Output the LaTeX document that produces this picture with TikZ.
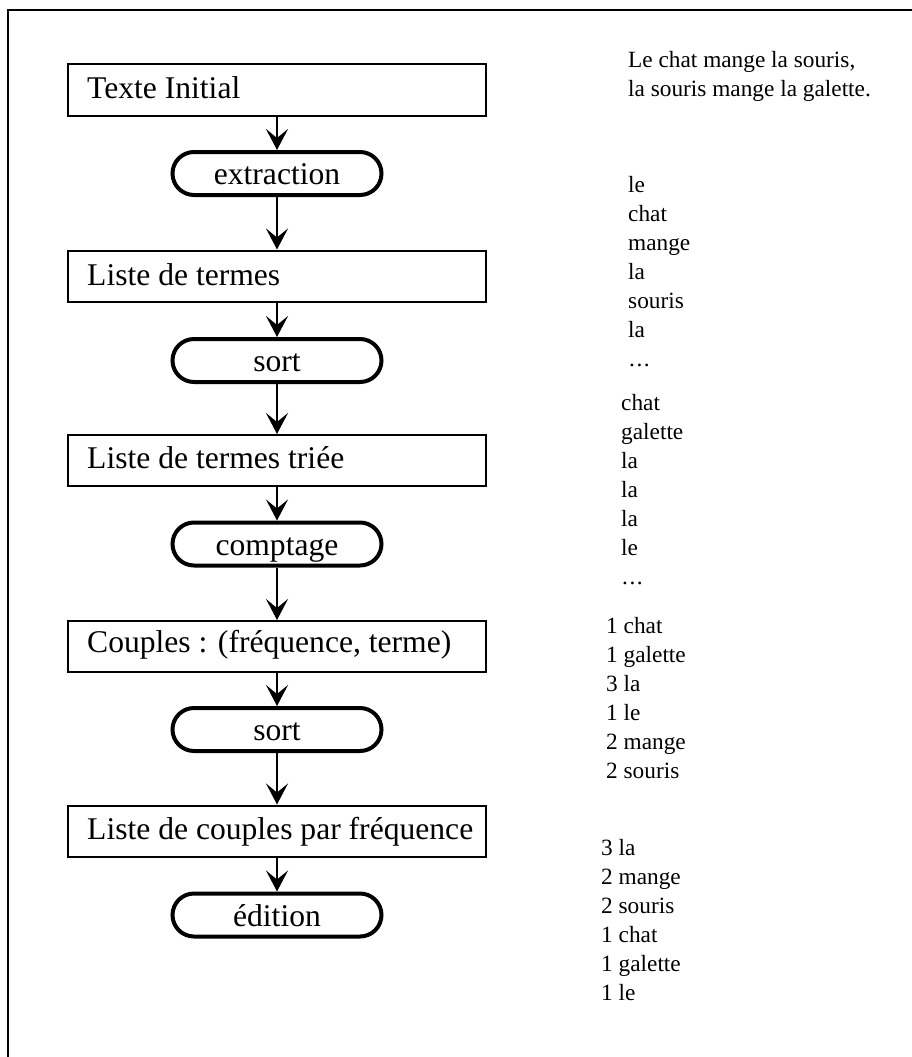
\documentclass[tikz,border=0pt]{standalone}
\usepackage{fontspec}
\setmainfont{Liberation Serif}
\usetikzlibrary{shapes.misc,arrows.meta}
\begin{document}
\begin{tikzpicture}[x=1pt,y=-1pt,
  frame/.style={line width=2.7pt},
  procbox/.style={draw,line width=2pt,rectangle,minimum width=418pt,minimum height=51pt,inner sep=0pt},
  boxtxt/.style={anchor=base west,inner sep=0pt,font=\fontsize{31.6}{38}\selectfont},
  stad/.style={draw,line width=4pt,rounded rectangle,minimum width=209pt,minimum height=43pt,inner sep=0pt,text height=22pt,text depth=0pt,font=\fontsize{31.6}{38}\selectfont},
  flow/.style={line width=2pt,-{Stealth[length=21pt,width=22pt,inset=9pt]}},
  side/.style={anchor=base west,inner sep=0pt,font=\fontsize{23.3}{29}\selectfont}]
\useasboundingbox (0,0) rectangle (912,1057);
\draw[frame] (912,10) -- (8,10) -- (8,1057);

% process boxes
\node[procbox] (b1) at (277,90) {};
\node[procbox] (b2) at (277,276) {};
\node[procbox] (b3) at (277,460.5) {};
\node[procbox] (b4) at (277,646.5) {};
\node[procbox] (b5) at (277,831) {};
\node[boxtxt] (t1) at (87,98) {Texte Initial};
\node[boxtxt] (t2) at (87,285) {Liste de termes};
\node[boxtxt] (t3) at (87,468) {Liste de termes triée};
\node[boxtxt] (t4) at (87,652) {Couples : (fréquence, terme)};
\node[boxtxt] (t5) at (87,839) {Liste de couples par fréquence};

% operations
\node[stad] (s1) at (277,173.5) {extraction};
\node[stad] (s2) at (277,360.5) {sort};
\node[stad] (s3) at (277,544) {comptage};
\node[stad] (s4) at (277,729.5) {sort};
\node[stad] (s5) at (277,915) {édition};

% connectors
\draw[flow] (b1.south) -- (s1.north);
\draw[flow] (s1.south) -- (b2.north);
\draw[flow] (b2.south) -- (s2.north);
\draw[flow] (s2.south) -- (b3.north);
\draw[flow] (b3.south) -- (s3.north);
\draw[flow] (s3.south) -- (b4.north);
\draw[flow] (b4.south) -- (s4.north);
\draw[flow] (s4.south) -- (b5.north);
\draw[flow] (b5.south) -- (s5.north);

% example data
\node[side] (a1) at (628,67) {Le chat mange la souris,};
\node[side] (a2) at (628,96) {la souris mange la galette.};

\foreach [count=\i] \w in {le,chat,mange,la,souris,la}
  \node[side] (lb\i) at (628,{192+29*(\i-1)}) {\w};
\node[side] (lb7) at (629,366) {.\kern1.5pt.\kern1.5pt.};

\foreach [count=\i] \w in {chat,galette,la,la,la,le}
  \node[side] (lc\i) at (621,{410+29*(\i-1)}) {\w};
\node[side] (lc7) at (622,584) {.\kern1.5pt.\kern1.5pt.};

\foreach [count=\i] \w in {1 chat,1 galette,3 la,1 le,2 mange,2 souris}
  \node[side] (ld\i) at (606,{633+29*(\i-1)}) {\w};

\foreach [count=\i] \w in {3 la,2 mange,2 souris,1 chat,1 galette,1 le}
  \node[side] (le\i) at (601,{855+29*(\i-1)}) {\w};
\end{tikzpicture}
\end{document}
